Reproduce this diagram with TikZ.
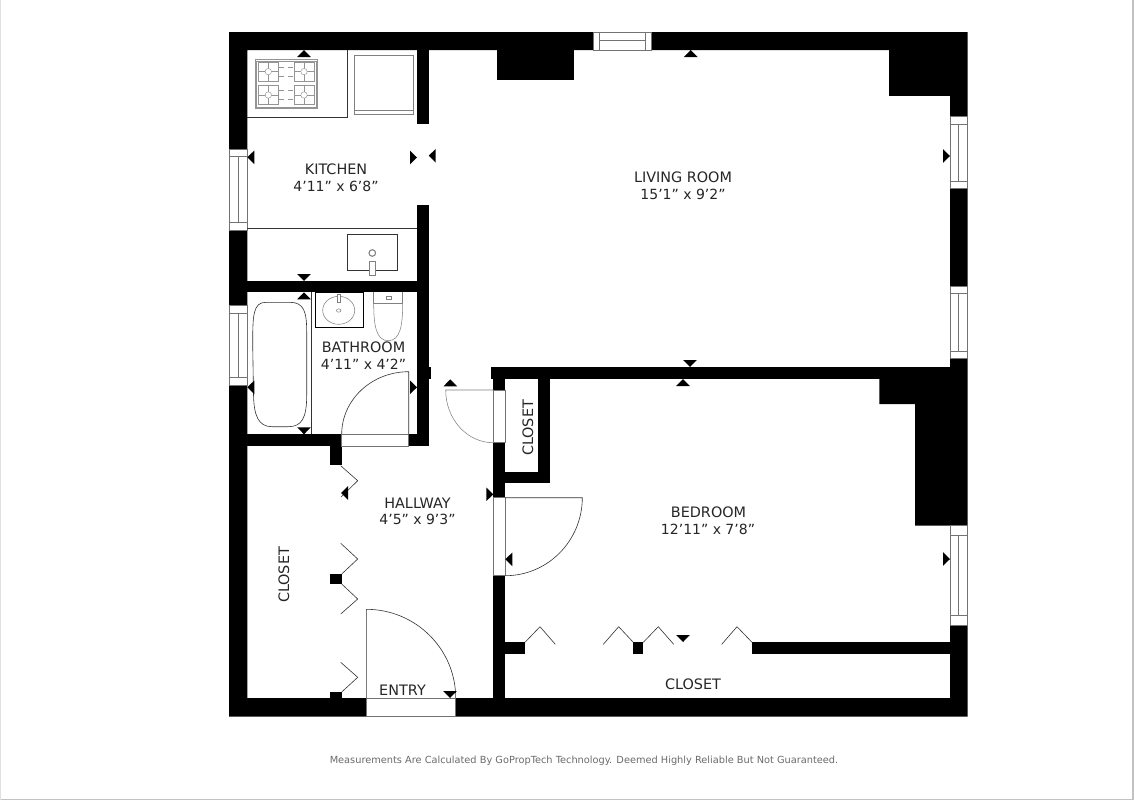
\documentclass[tikz,border=0pt]{standalone}
\usepackage{fontspec}
\setmainfont{DejaVu Sans}
\definecolor{pagegrey}{gray}{0.76}
\definecolor{foot}{gray}{0.42}
\tikzset{
  x=0.75pt,y=-0.75pt,
  wallfill/.style={fill=black,draw=none},
  fine/.style={draw=black!80,line width=0.45pt},
  soft/.style={draw=black!50,line width=0.4pt},
  stove/.style={draw=black!42,line width=0.33pt},
  winbox/.style={draw=black!55,fill=white,line width=0.6pt},
  marker/.style={fill=black,draw=none},
  room/.style={font=\fontsize{10.8}{12}\selectfont,text=black!85,inner sep=0pt},
  dims/.style={font=\fontsize{10.5}{12}\selectfont,text=black!85,inner sep=0pt},
  footnote/.style={font=\fontsize{7.34}{9}\selectfont,text=foot,inner sep=0pt},
}
% markers: apex x,y
\newcommand{\triU}[2]{\fill[marker] (#1,#2) -- ++(-6.8,7) -- ++(13.6,0) -- cycle;}
\newcommand{\triD}[2]{\fill[marker] (#1,#2) -- ++(-6.8,-7) -- ++(13.6,0) -- cycle;}
\newcommand{\triL}[2]{\fill[marker] (#1,#2) -- ++(7,-6.8) -- ++(0,13.6) -- cycle;}
\newcommand{\triR}[2]{\fill[marker] (#1,#2) -- ++(-7,-6.8) -- ++(0,13.6) -- cycle;}
\newcommand{\winV}[6]{% x1 x2 y1 y2 bar1 bar2
  \draw[winbox] (#1,#3) rectangle (#2,#4);
  \draw[winbox] (#1,#5) -- (#2,#5) (#1,#6) -- (#2,#6);
  \draw[winbox] ({(#1+#2)/2},#5) -- ({(#1+#2)/2},#6);}
\begin{document}
\begin{tikzpicture}
\useasboundingbox (0,0) rectangle (1134,800);
\fill[white] (0,0) rectangle (1134,800);
\fill[pagegrey] (1131.5,0) rectangle (1134,800);
\fill[pagegrey] (0,799) rectangle (1134,800);
\fill[black!12] (0,0) rectangle (1,800);
% outer shell
\fill[wallfill,even odd rule] (229,32) rectangle (967.6,716.6) (247.3,50) rectangle (950,698);
% furring blocks
\fill[wallfill] (497.3,50) rectangle (573.7,80.3);
\fill[wallfill] (889.3,50) rectangle (950,96.3);
\fill[wallfill] (879.3,379) -- (879.3,404) -- (915,404) -- (915,525.7) -- (950,525.7) -- (950,379) -- cycle;
% kitchen / bath walls
\fill[wallfill] (417,50) rectangle (428.7,123.7);
\fill[wallfill] (417,205) rectangle (428.7,446);
\fill[wallfill] (247.3,280.7) rectangle (417,292.3);
\fill[wallfill] (247.3,434.3) rectangle (341.7,446);
\fill[wallfill] (408.7,434.3) rectangle (428.7,446);
\fill[wallfill] (330,446) rectangle (341.7,465);
\fill[wallfill] (428.7,367) rectangle (430.7,379);
% bedroom top wall and hallway wall
\fill[wallfill] (491,367.3) rectangle (950,379);
\fill[wallfill] (493.3,367.3) rectangle (505.3,716);
% hall closet
\fill[wallfill] (538.3,379) rectangle (550,483.3);
\fill[wallfill] (505.3,471.7) rectangle (550,483.3);
% bedroom closet wall
\fill[wallfill] (505.3,642.3) rectangle (525,654.3);
\fill[wallfill] (633.3,642.3) rectangle (643.3,654.3);
\fill[wallfill] (752,642.3) rectangle (950,654.3);
% posts
\fill[wallfill] (330,574) rectangle (341.7,584);
\fill[wallfill] (330,692) rectangle (341.7,698);
% door openings
\draw[winbox] (341.7,434.3) rectangle (408.7,446);
\draw[winbox] (493.3,390) rectangle (505.3,442.7);
\draw[winbox] (493.3,497.7) rectangle (505.3,575.7);
\draw[winbox] (366.3,698) rectangle (455.7,716.6);
% windows
\winV{229}{247.3}{149}{230.7}{156.7}{222.3}
\winV{229}{247.3}{305.7}{385}{313.3}{377.3}
\winV{950}{967.6}{116.7}{188.3}{124}{181}
\winV{950}{967.6}{286}{358.3}{293.3}{351}
\winV{950}{967.6}{525}{625}{535}{615.7}
\draw[winbox] (593.3,32) rectangle (651.3,50);
\draw[winbox] (599.3,32) -- (599.3,50) (645.7,32) -- (645.7,50);
\draw[winbox] (599.3,40.7) -- (645.7,40.7);
% doors
\draw[fine] (408.7,434.3) -- (408.7,371.7) .. controls (371.7,371.7) and (341.7,399.7) .. (341.7,434.3);
\draw[soft] (493.3,390) -- (445.7,390) .. controls (445.7,419.1) and (467,442.7) .. (493.3,442.7);
\draw[fine] (505.3,497.7) -- (582.3,497.7) .. controls (582.3,540.7) and (547.8,575.7) .. (505.3,575.7);
\draw[fine] (366.3,698) -- (366.3,609.3) .. controls (415.7,609.3) and (455.7,649) .. (455.7,698);
% bifolds
\draw[fine] (340.7,465.7) -- (357.7,480.7) -- (341,497);
\draw[fine] (340.7,543.3) -- (357.7,559) -- (341.7,574);
\draw[fine] (341.7,584) -- (357.7,599) -- (340.7,614);
\draw[fine] (340.7,662.3) -- (357.7,677.3) -- (341.7,692);
\draw[fine] (525,642.3) -- (540,626.7) -- (555.3,644.3);
\draw[fine] (603.3,644.3) -- (618.7,626.7) -- (633.3,642.3);
\draw[fine] (643.3,642.3) -- (658.3,626.7) -- (673.7,644.3);
\draw[fine] (721.7,644.3) -- (737,626.7) -- (752,642.3);
% kitchen fixtures
\draw[fine] (247.3,117.7) -- (347.7,117.7) -- (347.7,50);
\draw[fine] (247.3,228.7) -- (417,228.7);
\draw[stove] (255,59.3) rectangle (317.3,108.3);
\draw[stove] (256.5,60.8) rectangle (315.8,106.8);
\foreach \gx/\lx in {258.3/278.3,294/314}{
 \foreach \gy/\ly in {62.3/81,85.7/104.3}{
  \draw[stove] (\gx,\gy) rectangle (\lx,\ly);
  \draw[stove] ({(\gx+\lx)/2},\gy) -- ({(\gx+\lx)/2},\ly) (\gx,{(\gy+\ly)/2}) -- (\lx,{(\gy+\ly)/2});
  \draw[stove,fill=white] ({(\gx+\lx)/2},{(\gy+\ly)/2}) circle[radius=3.2];
 }}
\foreach \gy in {67,76,90,99}{
  \draw[stove] (279,\gy) -- (284,\gy) (288,\gy) -- (293,\gy);
}
\draw[soft] (354.3,55) rectangle (413.3,114);
\draw[soft] (354.3,110.7) -- (413.3,110.7);
\draw[fine] (347.3,234.3) rectangle (397.3,270);
\draw[soft,line width=0.8pt] (372.3,253) circle[radius=3.3];
\draw[soft,fill=white] (369.3,261) rectangle (375.7,275.7);
% bath fixtures
\draw[fine] (311.7,292.3) -- (311.7,434.3);
\draw[fine] (252.7,345) .. controls (252.7,315) and (253,302.3) .. (266,302.3) -- (290,302.3) .. controls (304,302.3) and (306.7,312) .. (306.7,332) -- (306.7,395) .. controls (306.7,418) and (302,426.7) .. (288,426.7) -- (272,426.7) .. controls (258,426.7) and (254,415) .. (253.5,395) -- cycle;
\draw[black,line width=0.8pt] (315.7,292.3) rectangle (363.3,327.3);
\draw[soft] (338.7,310.3) ellipse[x radius=16,y radius=14];
\draw[soft] (338.7,310.5) ellipse[x radius=2.2,y radius=1.7];
\draw[soft,fill=white] (336.8,294.5) rectangle (340.6,302);
\draw[soft] (373.7,292.3) -- (373.7,303) -- (402.7,303) -- (402.7,292.3);
\draw[soft] (373.7,303) .. controls (373.7,325) and (376,340.7) .. (388.2,340.7) .. controls (400.4,340.7) and (402.7,325) .. (402.7,303);
\draw[soft] (386,296) rectangle (391,299);
% markers
\triU{304}{50} \triL{247.3}{157.3} \triR{417}{157.5} \triL{428.7}{155.7} \triD{304}{281}
\triU{304}{292.3} \triL{247.3}{387.3} \triR{417}{387.3} \triD{304}{434.3}
\triU{450.3}{379.3} \triR{493.3}{494.3} \triL{505.3}{559.3} \triL{341}{493}
\triD{450}{698} \triD{690}{367} \triU{683}{379} \triU{690.7}{50}
\triR{950}{156} \triR{950}{559} \triD{683}{642}
% labels
\node[room] (kit) at (336,169) {KITCHEN};
\node[dims] (kitd) at (336,186) {4’11” x 6’8”};
\node[room] (liv) at (683,177) {LIVING ROOM};
\node[dims] (livd) at (683,194) {15’1” x 9’2”};
\node[room] (bat) at (363.5,347) {BATHROOM};
\node[dims] (batd) at (363.5,364) {4’11” x 4’2”};
\node[room] (hal) at (417.5,503) {HALLWAY};
\node[dims] (hald) at (417.5,519) {4’5” x 9’3”};
\node[room] (bed) at (708.5,512) {BEDROOM};
\node[dims] (bedd) at (708,529) {12’11” x 7’8”};
\node[room,rotate=90] (c1) at (284,575) {CLOSET};
\node[room,rotate=90] (c2) at (528,428) {CLOSET};
\node[room] (ent) at (402.5,690) {ENTRY};
\node[room] (c3) at (693,684) {CLOSET};
\node[footnote] (fn) at (584,760.8) {Measurements Are Calculated By GoPropTech Technology. Deemed Highly Reliable But Not Guaranteed.};
\end{tikzpicture}
\end{document}
